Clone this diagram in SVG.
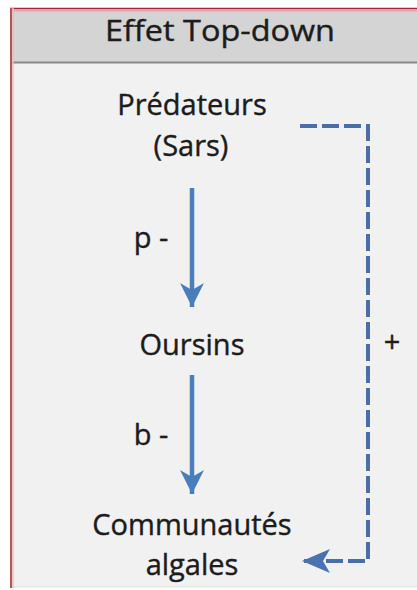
<svg xmlns="http://www.w3.org/2000/svg" width="417" height="590" viewBox="0 0 417 590">
<style>
.t{font-family:"Open Sans","Liberation Sans",sans-serif;font-size:29px;fill:#1c1c1c;stroke:#1c1c1c;stroke-width:0.4;text-anchor:middle}
.sol{stroke:#4a7ebb;stroke-width:4.5;fill:none}
.dash{stroke:#4a6ea8;stroke-width:4;fill:none;stroke-dasharray:17 5}
</style>
<defs>
<marker id="ah" markerUnits="userSpaceOnUse" markerWidth="30" markerHeight="30" refX="24" refY="12" orient="auto" viewBox="0 0 30 24">
<path d="M24,12 L0,0 L7,12 L0,24 Z" fill="#4a7ebb"/>
</marker>
<marker id="ahd" markerUnits="userSpaceOnUse" markerWidth="30" markerHeight="30" refX="26" refY="12" orient="auto" viewBox="0 0 30 24">
<path d="M28,12 L0,0 L7,12 L0,24 Z" fill="#4a72b0"/>
</marker>
</defs>
<rect x="0" y="0" width="417" height="590" fill="#ffffff"/>
<g id="frame">
<rect x="11" y="9" width="410" height="578" fill="#f1f1f1" stroke="#e8dede" stroke-width="1"/>
<rect x="11" y="9" width="410" height="53" fill="#d4d4d4"/>
<line x1="11" y1="62.5" x2="417" y2="62.5" stroke="#8a8a8a" stroke-width="2"/>
<line x1="10" y1="8.5" x2="417" y2="8.5" stroke="#9a2a3a" stroke-width="1.5"/>
<line x1="11" y1="10.5" x2="417" y2="10.5" stroke="#f0a0a8" stroke-width="2"/>
<line x1="11" y1="8" x2="11" y2="588" stroke="#b05a5e" stroke-width="2"/>
<line x1="13" y1="8" x2="13" y2="588" stroke="#f0b8bc" stroke-width="1.5"/>
</g>
<g id="title"><text class="t" x="220" y="41" font-size="30" textLength="230" lengthAdjust="spacingAndGlyphs">Effet Top-down</text></g>
<g id="predateurs"><text class="t" x="192" y="115">Prédateurs</text><text class="t" x="191" y="156">(Sars)</text></g>
<g id="oursins"><text class="t" x="192" y="355">Oursins</text></g>
<g id="algales"><text class="t" x="192" y="535">Communautés</text><text class="t" x="192" y="575">algales</text></g>
<g id="connectors">
<line class="sol" x1="192" y1="188" x2="192" y2="307" marker-end="url(#ah)"/>
<line class="sol" x1="192" y1="375" x2="192" y2="494" marker-end="url(#ah)"/>
<path class="dash" d="M300,126 H368 V561 H304" marker-end="url(#ahd)"/>
<text class="t" x="151" y="248">p -</text>
<text class="t" x="151" y="445">b -</text>
<text class="t" x="392" y="352">+</text>
</g>
</svg>
